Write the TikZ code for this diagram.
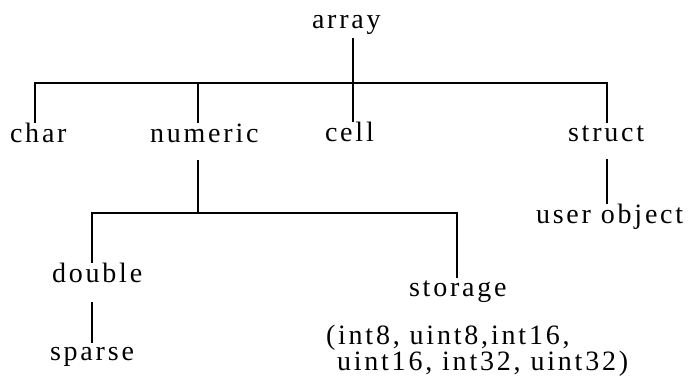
\documentclass[tikz,border=0pt]{standalone}
\usepackage{fontspec}
\setmainfont{Liberation Serif}[LetterSpace=10]
\begin{document}
\begin{tikzpicture}[x=1pt,y=-1pt,
  lbl/.style={anchor=base west,inner sep=0pt,outer sep=0pt,font=\fontsize{28}{28}\selectfont},
  conn/.style={line width=2.4pt,line cap=butt,line join=miter}]
\useasboundingbox (0,0) rectangle (693,380);
% labels
\node[lbl] (array)   at (312,28)  {array};
\node[lbl] (char)    at (10,142)  {char};
\node[lbl] (numeric) at (150,142) {numeric};
\node[lbl] (cell)    at (325,141) {cell};
\node[lbl] (struct)  at (568,141) {struct};
\node[lbl] (user)    at (536,223) {user object};
\node[lbl] (double)  at (52,282)  {double};
\node[lbl] (storage) at (409,296) {storage};
\node[lbl] (sparse)  at (50,360)  {sparse};
\node[lbl] (intA)    at (326,344) {(int8, uint8,int16,};
\node[lbl] (intB)    at (337,370) {uint16, int32, uint32)};
% junctions
\coordinate (aTop)  at (353,38);
\coordinate (busL)  at (35,83);
\coordinate (busN)  at (198,83);
\coordinate (busR)  at (607,83);
\coordinate (nLow)  at (198,160);
\coordinate (bus2L) at (92,213);
\coordinate (bus2N) at (198,213);
\coordinate (bus2R) at (457,213);
\coordinate (sLow)  at (607,159);
\coordinate (dLow)  at (92,302);
% connectors
\draw[conn] (aTop) -- (aTop |- cell.north);
\draw[conn] (busL |- char.north) -- (busL) -- (busR) -- ([yshift=2pt]busR |- struct.north);
\draw[conn] (busN) -- (busN |- numeric.north);
\draw[conn] (nLow) -- (bus2N);
\draw[conn] (bus2L |- double.north) -- (bus2L) -- (bus2R) -- ([yshift=2pt]bus2R |- storage.north);
\draw[conn] (sLow) -- (sLow |- user.north);
\draw[conn] (dLow) -- ([yshift=4pt]dLow |- sparse.north);
\end{tikzpicture}
\end{document}
